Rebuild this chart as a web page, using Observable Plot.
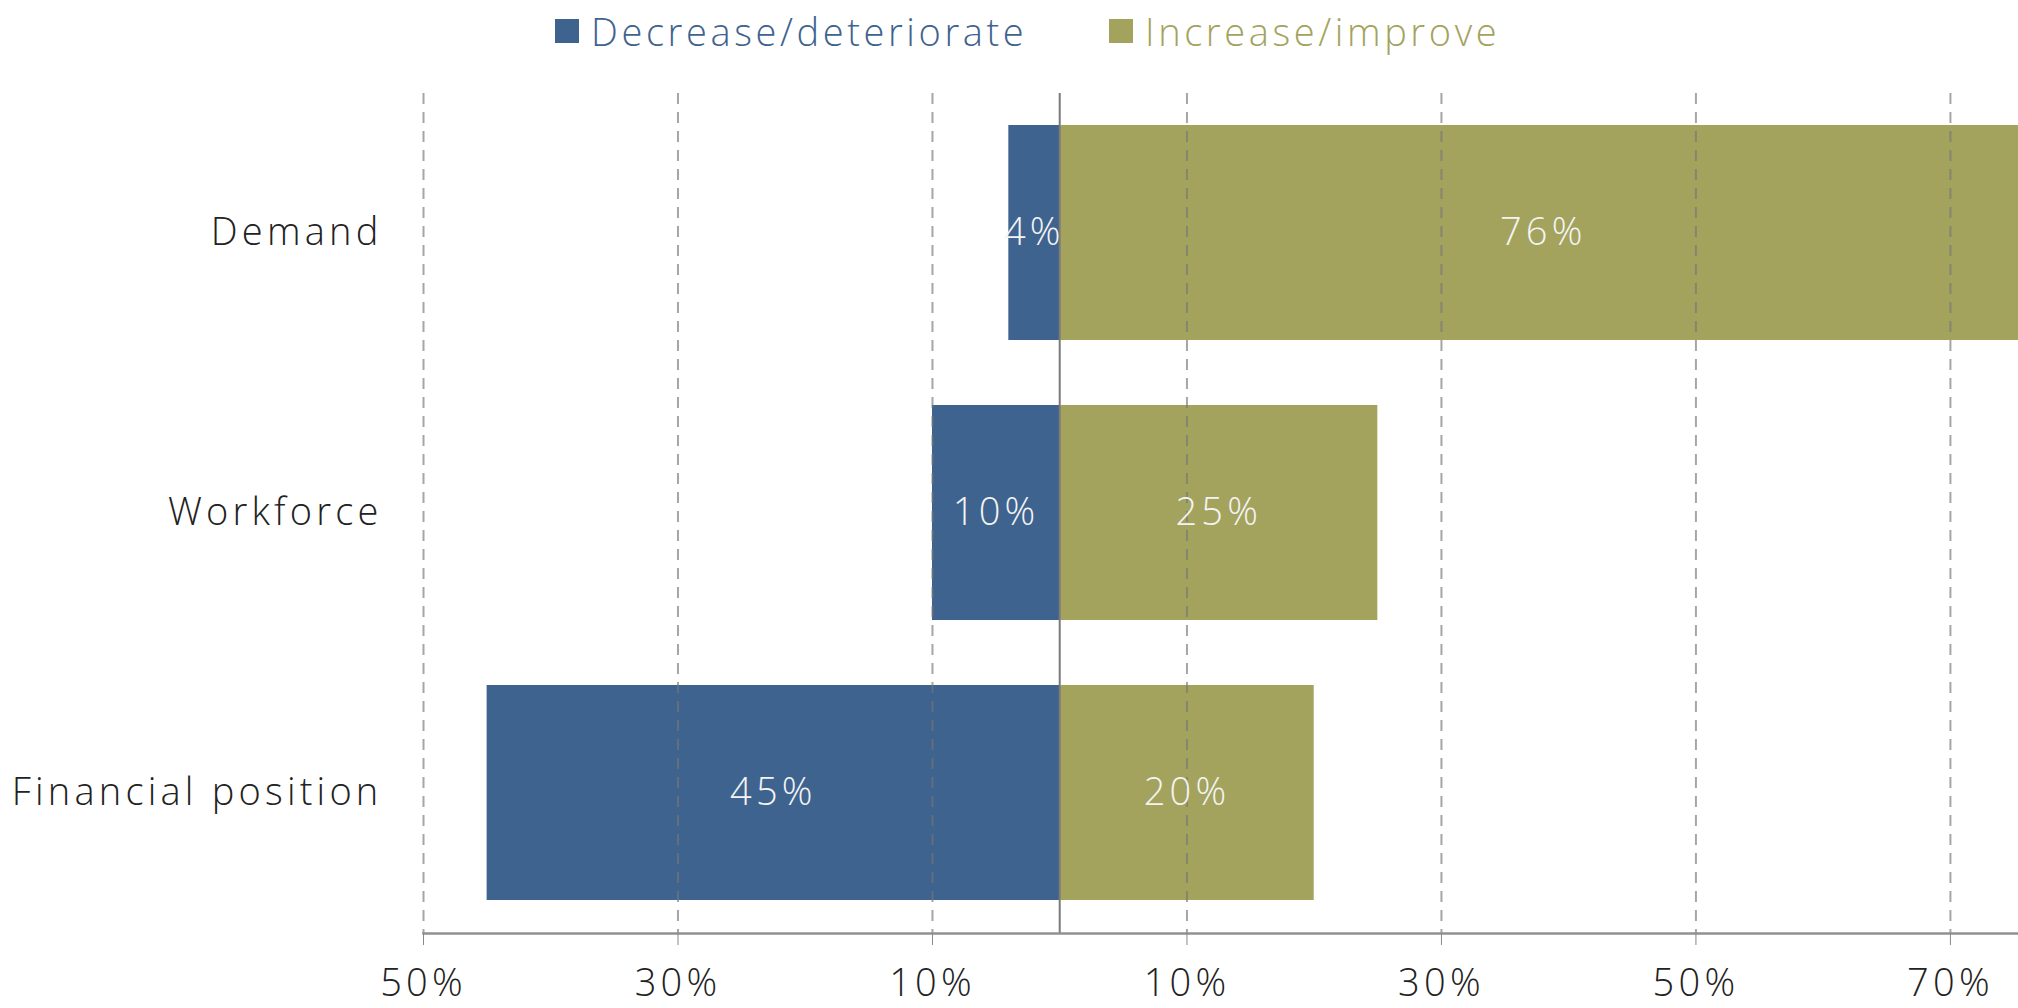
<!DOCTYPE html>
<html>
<head>
<meta charset="utf-8">
<script src="https://cdn.jsdelivr.net/npm/d3@7"></script>
<script src="https://cdn.jsdelivr.net/npm/@observablehq/plot@0.6"></script>
<style>
  html, body { margin: 0; padding: 0; background: #fff; overflow: hidden; }
  #legend { height: 60px; position: relative; font-family: "Open Sans", sans-serif; font-weight: 300; font-size: 38px; letter-spacing: 3.6px; }
  .item { position: absolute; top: 5px; display: flex; align-items: center; }
  .sw { width: 24px; height: 24px; margin-right: 12px; }
  svg text { letter-spacing: 4.2px; }
</style>
</head>
<body>
<div id="legend"></div>
<div id="chart"></div>
<script>
const categories = ["Demand", "Workforce", "Financial position"];
const seriesNames = ["Decrease/deteriorate", "Increase/improve"];
const seriesColors = ["#3F638F", "#A3A35E"];
const decrease = [4, 10, 45];
const increase = [76, 25, 20];
const xTicks = [-50, -30, -10, 10, 30, 50, 70];

const rows = categories.flatMap((c, i) => [
  {cat: c, series: seriesNames[0], x1: -decrease[i], x2: 0, v: decrease[i]},
  {cat: c, series: seriesNames[1], x1: 0, x2: increase[i], v: increase[i]}
]);

// legend
const legend = document.getElementById("legend");
const legendX = [555, 1109];
seriesNames.forEach((s, i) => {
  const it = document.createElement("div");
  it.className = "item";
  it.style.left = legendX[i] + "px";
  it.style.color = seriesColors[i];
  it.innerHTML = `<div class="sw" style="background:${seriesColors[i]}"></div><span>${s}</span>`;
  legend.appendChild(it);
});

const chart = Plot.plot({
  width: 2018,
  height: 948,
  marginLeft: 423,
  marginRight: 0,
  marginTop: 33,
  marginBottom: 75,
  style: {fontFamily: "'Open Sans', sans-serif", fontWeight: 300, fontSize: "38px", background: "#fff"},
  x: {domain: [-50, 75.35], label: null},
  y: {domain: categories, paddingInner: 0.232, paddingOuter: 0.116, label: null},
  color: {domain: seriesNames, range: seriesColors},
  marks: [
    Plot.barX(rows, {y: "cat", x1: "x1", x2: "x2", fill: "series", clip: true}),
    Plot.ruleX(xTicks, {stroke: "#777", strokeWidth: 2, strokeDasharray: "11,8", strokeOpacity: 0.65}),
    Plot.ruleX([0], {stroke: "#7a7a7a", strokeWidth: 2}),
    Plot.frame({anchor: "bottom", stroke: "#909090", strokeWidth: 2.5}),
    Plot.text(rows, {y: "cat", x: d => (d.x1 + d.x2) / 2, text: d => d.v + "%", fill: "#f4f4f4", fontSize: 38, fontWeight: 300}),
    Plot.axisX({ticks: xTicks, tickFormat: d => Math.abs(d) + "%", tickSize: 12, tickPadding: 24, stroke: "#888", fill: "#222", fontSize: 38, label: null}),
    Plot.axisY({tickSize: 0, tickPadding: 41, fill: "#222", fontSize: 38, label: null})
  ]
});
document.getElementById("chart").appendChild(chart);
</script>
</body>
</html>
